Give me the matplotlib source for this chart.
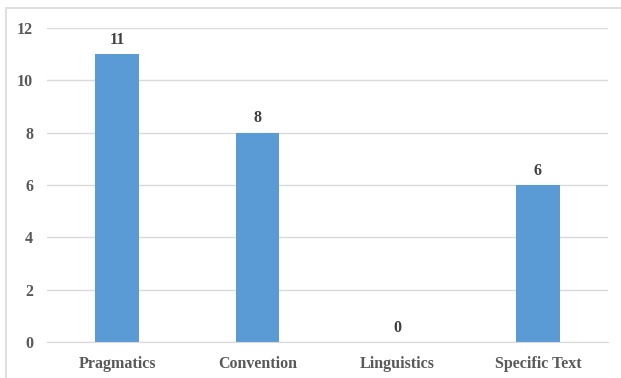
import matplotlib.pyplot as plt
from matplotlib.patches import Rectangle

# Data
categories = ['Pragmatics', 'Convention', 'Linguistics', 'Specific Text']
counts = [11, 8, 0, 6]
y_ticks = [0, 2, 4, 6, 8, 10, 12]

bar_color = '#5B9BD5'
grid_color = '#D9D9D9'
label_color = '#595959'

plt.rcParams['font.family'] = ['Liberation Serif', 'DejaVu Serif']

fig = plt.figure(figsize=(6.21, 3.78), dpi=100)
ax = fig.add_axes([47 / 621, 1 - 342 / 378, (608 - 47) / 621, (342 - 28) / 378])

x = range(len(categories))
bars = ax.bar(x, counts, width=0.31, color=bar_color, zorder=2)
ax.bar_label(bars, labels=[str(c) for c in counts], padding=4.5,
             fontsize=11.5, fontweight='bold', color='#404040')

ax.set_xlim(-0.5, len(categories) - 0.5)
ax.set_ylim(0, 12)
ax.set_yticks(y_ticks)
ax.set_xticks(list(x))
ax.set_xticklabels(categories)
ax.yaxis.grid(True, color=grid_color, linewidth=1, zorder=0)
ax.set_axisbelow(True)

for s in ['top', 'right', 'left']:
    ax.spines[s].set_visible(False)
ax.spines['bottom'].set_color(grid_color)
ax.tick_params(axis='both', length=0, labelsize=11.5, labelcolor=label_color)
ax.tick_params(axis='y', pad=10)
ax.tick_params(axis='x', pad=10)
for t in ax.get_xticklabels() + ax.get_yticklabels():
    t.set_fontweight('bold')

# light outer frame like the original chart area
fig.patches.append(Rectangle((6 / 621, -0.02), 1.1, 1 - 8 / 378 + 0.02,
                             transform=fig.transFigure, fill=False,
                             edgecolor='#D9D9D9', linewidth=1.2))

fig.savefig('out.png', dpi=100)
